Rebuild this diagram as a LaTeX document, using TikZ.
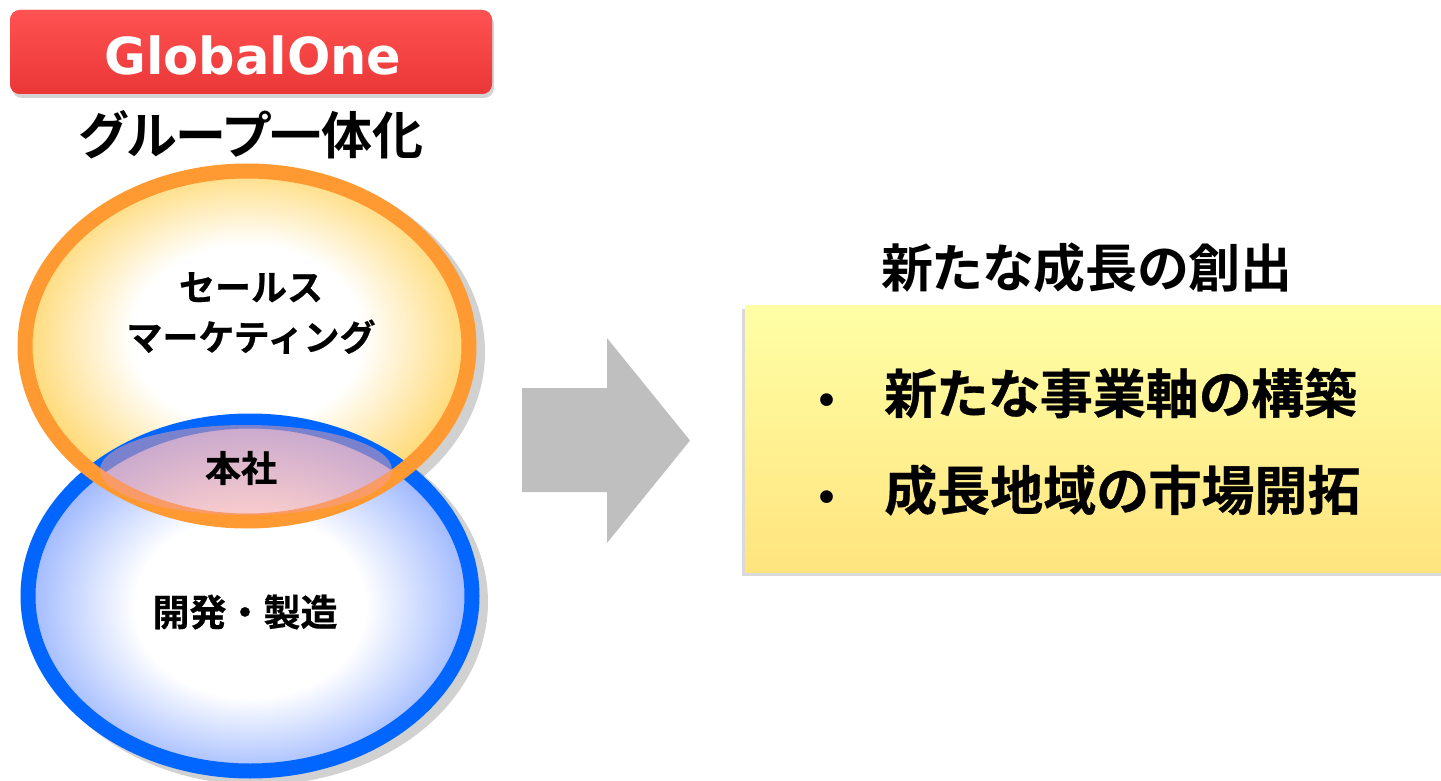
\documentclass[tikz,border=0pt]{standalone}
\usepackage{fontspec}
\newfontfamily\jpfont{Noto Sans CJK JP}[BoldFont={* Bold}, BoldFeatures={FakeBold=0.6}, RawFeature=+palt]
\newfontfamily\jpsquare{Noto Sans CJK JP}[BoldFont={* Bold}, BoldFeatures={FakeBold=0.6}]
\newfontfamily\jpmid{Noto Sans CJK JP}[BoldFont={* Bold}, RawFeature=+palt]
\newfontfamily\logofont{DejaVu Sans}[BoldFont={* Bold}]
\usetikzlibrary{shadows}

\definecolor{btnred}{HTML}{FF3B3B}
\definecolor{btnredtop}{HTML}{FF5252}
\definecolor{ringorange}{HTML}{FF9A33}
\definecolor{ringblue}{HTML}{0066FF}
\definecolor{glowyellow}{HTML}{FFDA78}
\definecolor{glowblue}{HTML}{A0B9FF}
\definecolor{hqpink}{HTML}{F59C9C}
\definecolor{arrowgray}{HTML}{BFBFBF}
\definecolor{boxtop}{HTML}{FFFFA6}
\definecolor{boxbottom}{HTML}{FFE47E}

\pgfdeclareradialshading{salesglow}{\pgfpoint{0bp}{2bp}}{color(0bp)=(white); color(13bp)=(white); color(25bp)=(glowyellow); color(50bp)=(glowyellow)}
\pgfdeclareradialshading{devglow}{\pgfpoint{0bp}{-2bp}}{color(0bp)=(white); color(13bp)=(white); color(25bp)=(glowblue); color(50bp)=(glowblue)}

\begin{document}
\begin{tikzpicture}[x=1pt, y=-1pt,
  ring/.style = {line width=15pt},
  circletext/.style = {font=\jpsquare\bfseries\fontsize{36}{50}\selectfont, align=center, inner sep=0pt},
  headtext/.style = {font=\jpmid\bfseries\fontsize{52}{54}\selectfont, inner sep=0pt},
  bullettext/.style = {font=\jpfont\bfseries\fontsize{53}{55}\selectfont, anchor=west, inner sep=0pt}]
\useasboundingbox (0,0) rectangle (1441,781);

% button
\fill[btnred, rounded corners=10pt, top color=btnredtop, bottom color=btnred!92!black,
  drop shadow={shadow xshift=2pt, shadow yshift=-4pt, opacity=0.35}] (10,10) rectangle (492,94);
\node[font=\logofont\bfseries\fontsize{51}{53}\selectfont, text=white, anchor=base, inner sep=0pt] (logo) at (253,75) {GlobalOne};
\node[headtext, font=\jpmid\bfseries\fontsize{51}{53}\selectfont] (group) at (251,135) {グループ一体化};

% circles
\fill[black, opacity=0.18] (255,352) ellipse [x radius=230, y radius=183];
\fill[black, opacity=0.18] (258,602) ellipse [x radius=230, y radius=183];
\shade[shading=salesglow] (247,346) ellipse [x radius=222, y radius=175];
\shade[shading=devglow] (250,596) ellipse [x radius=222, y radius=175];
\draw[ring, ringblue] (250,596) ellipse [x radius=222, y radius=175];
\draw[ring, ringorange] (247,346) ellipse [x radius=222, y radius=175];
\fill[hqpink, opacity=0.5] (246,470) ellipse [x radius=146, y radius=45];

\node[circletext] (sales) at (251,313) {セールス\\マーケティング};
\node[circletext] (hq) at (241,468) {本社};
\node[circletext, font=\jpsquare\bfseries\fontsize{37}{40}\selectfont] (dev) at (245,612) {開発・製造};

% arrow
\fill[arrowgray] (522,388) -- (607,388) -- (607,338) -- (690,440.5) -- (607,543) -- (607,492) -- (522,492) -- cycle;

% result box
\node[headtext] (growth) at (1087,268) {新たな成長の創出};
\fill[top color=boxtop, bottom color=boxbottom,
  drop shadow={shadow xshift=-3pt, shadow yshift=-4pt, opacity=0.3}] (745,305) rectangle (1460,572);
\node[bullettext] (item1) at (817,393) {\makebox[20pt][c]{\logofont\bfseries\fontsize{36}{38}\selectfont •}\hspace{47pt}新たな事業軸の構築};
\node[bullettext] (item2) at (817,490) {\makebox[20pt][c]{\logofont\bfseries\fontsize{36}{38}\selectfont •}\hspace{47pt}成長地域の市場開拓};
\end{tikzpicture}
\end{document}
